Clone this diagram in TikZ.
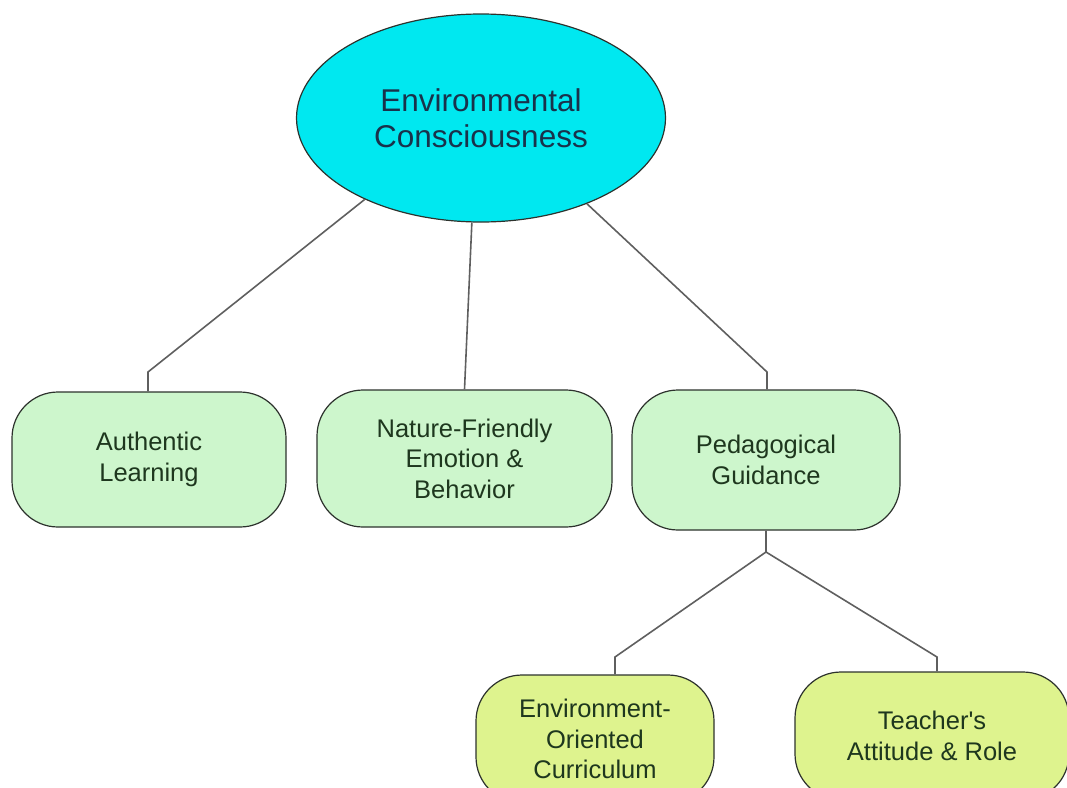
\documentclass[tikz,border=0pt]{standalone}
\usepackage{fontspec}
\setmainfont{Liberation Sans}
\usetikzlibrary{shapes.geometric}
\definecolor{cyanfill}{RGB}{0,232,240}
\definecolor{greenfill}{RGB}{205,246,204}
\definecolor{limefill}{RGB}{222,243,142}
\definecolor{edgecol}{RGB}{45,50,45}
\definecolor{linkcol}{RGB}{95,95,95}
\definecolor{toptext}{RGB}{25,50,75}
\definecolor{boxtext}{RGB}{30,55,30}
\begin{document}
\begin{tikzpicture}[x=1pt,y=-1pt,
  topnode/.style={ellipse,draw=edgecol,line width=1.2pt,fill=cyanfill,inner sep=0pt,
    minimum width=369pt,minimum height=208pt,align=center,text=toptext,
    font=\fontsize{31.5}{36}\selectfont},
  boxnode/.style={rectangle,rounded corners=46pt,draw=edgecol,line width=1.2pt,
    inner sep=0pt,align=center,text=boxtext,font=\fontsize{25.5}{30.5}\selectfont},
  greenbox/.style={boxnode,fill=greenfill},
  limebox/.style={boxnode,fill=limefill},
  link/.style={draw=linkcol,line width=1.6pt}]
\useasboundingbox (0,0) rectangle (1067,787);
\node[topnode] (top) at (481,118) {Environmental\\Consciousness};
\node[greenbox,minimum width=274pt,minimum height=135pt] (auth) at (149,459.5) {Authentic\\Learning};
\node[greenbox,minimum width=295pt,minimum height=137pt] (nat) at (464.5,458.5) {Nature-Friendly\\Emotion \&\\Behavior};
\node[greenbox,minimum width=268pt,minimum height=140pt] (ped) at (766,460) {Pedagogical\\Guidance};
\node[limebox,minimum width=238pt,minimum height=128pt] (env) at (595,739) {Environment-\\Oriented\\Curriculum};
\node[limebox,minimum width=274pt,minimum height=128pt] (tea) at (932,736) {Teacher\textquotesingle s\\Attitude \& Role};
\coordinate (b1) at (148,372);
\coordinate (b3) at (767,372);
\coordinate (j) at (766,552);
\coordinate (e1) at (615,657);
\coordinate (t1) at (937,657);
\draw[link] (top.215) -- (b1) -- (auth.north -| b1);
\draw[link] (top.265) -- (nat.north);
\draw[link] (top.321) -- (b3) -- (ped.north -| b3);
\draw[link] (ped.south) -- (j) -- (e1) -- (env.north -| e1);
\draw[link] (j) -- (t1) -- (tea.north -| t1);
\end{tikzpicture}
\end{document}
